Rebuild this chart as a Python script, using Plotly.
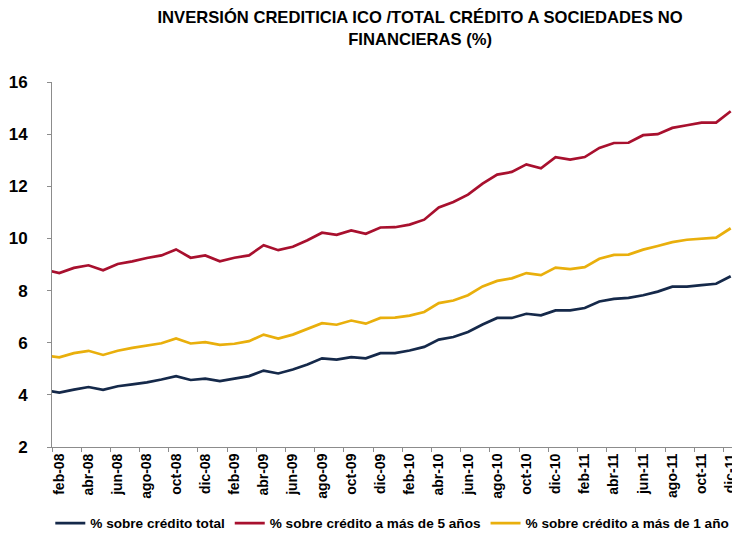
import plotly.graph_objects as go

# Meses (ene-08 queda fuera del eje, solo asoma el tramo inicial de las líneas)
anios = ["08", "09", "10", "11"]
nombres_mes = ["ene", "feb", "mar", "abr", "may", "jun",
               "jul", "ago", "sep", "oct", "nov", "dic"]
meses = [f"{m}-{a}" for a in anios for m in nombres_mes]

credito_total = [4.17, 4.09, 4.20, 4.30, 4.19, 4.33, 4.40, 4.48, 4.59, 4.72, 4.57, 4.62,
                 4.53, 4.63, 4.72, 4.93, 4.82, 4.97, 5.16, 5.40, 5.35, 5.45, 5.40, 5.60,
                 5.60, 5.70, 5.84, 6.12, 6.22, 6.41, 6.70, 6.95, 6.95, 7.11, 7.05, 7.24,
                 7.24, 7.33, 7.58, 7.68, 7.72, 7.82, 7.96, 8.15, 8.15, 8.21, 8.26, 8.55]
credito_mas_5 = [8.81, 8.67, 8.87, 8.97, 8.78, 9.02, 9.12, 9.25, 9.35, 9.58, 9.26, 9.35,
                 9.12, 9.26, 9.35, 9.74, 9.55, 9.68, 9.93, 10.22, 10.14, 10.31, 10.18, 10.42,
                 10.43, 10.53, 10.72, 11.19, 11.40, 11.68, 12.10, 12.45, 12.55, 12.84, 12.69, 13.12,
                 13.02, 13.12, 13.47, 13.66, 13.67, 13.96, 14.00, 14.24, 14.34, 14.44, 14.44, 14.88]
credito_mas_1 = [5.52, 5.44, 5.60, 5.69, 5.53, 5.69, 5.80, 5.88, 5.98, 6.16, 5.97, 6.02,
                 5.92, 5.96, 6.06, 6.31, 6.16, 6.31, 6.53, 6.75, 6.69, 6.85, 6.73, 6.95,
                 6.96, 7.04, 7.18, 7.52, 7.62, 7.82, 8.16, 8.37, 8.47, 8.67, 8.59, 8.88,
                 8.82, 8.90, 9.22, 9.37, 9.38, 9.57, 9.71, 9.86, 9.95, 9.99, 10.03, 10.39]

etiquetas_x = meses[1::2]  # feb-08, abr-08, ... dic-11

series = [
    ("% sobre crédito total", credito_total, "#15294A"),
    ("% sobre crédito a más de 5 años", credito_mas_5, "#A8102E"),
    ("% sobre crédito a más de 1 año", credito_mas_1, "#E9AF0C"),
]

fig = go.Figure()
for nombre, valores, color in series:
    fig.add_trace(go.Scatter(
        x=meses, y=valores, name=nombre, mode="lines",
        line=dict(color=color, width=2.7),
    ))

# the page body adds an 8px offset, so the figure is 8px smaller than the window
fig.update_layout(
    width=732, height=550,
    margin=dict(l=44, r=2, t=74, b=111, autoexpand=False),
    paper_bgcolor="white", plot_bgcolor="white",
    font=dict(family="Liberation Sans, Arial, sans-serif", color="black"),
    title=dict(
        text="<b>INVERSIÓN CREDITICIA ICO /TOTAL CRÉDITO A SOCIEDADES NO<br>FINANCIERAS (%)</b>",
        x=0.563, xanchor="center", xref="container",
        y=0.972, yanchor="top", yref="container",
        font=dict(size=16.6, color="black"),
    ),
    showlegend=True,
    legend=dict(
        orientation="h", xref="container", x=0.525, xanchor="center",
        y=-0.209, yanchor="middle",
        font=dict(size=13.6, color="black", weight="bold"),
        itemwidth=30, tracegroupgap=0,
    ),
)

fig.update_xaxes(
    type="category", categoryorder="array", categoryarray=meses,
    range=[0.5, 47.5], automargin=False,
    tickmode="array", tickvals=etiquetas_x, ticktext=etiquetas_x,
    tickson="boundaries", ticks="outside", ticklen=4, tickcolor="#8C8C8C",
    tickangle=-90,
    tickfont=dict(size=14, color="black", weight="bold"),
    showline=True, linecolor="#8C8C8C", linewidth=1,
    showgrid=False, zeroline=False,
)
fig.update_yaxes(
    range=[2, 16], dtick=2, automargin=False,
    ticks="outside", ticklen=4, tickcolor="#8C8C8C",
    ticklabelstandoff=16,
    tickfont=dict(size=17, color="black", weight="bold"),
    showline=True, linecolor="#8C8C8C", linewidth=1,
    showgrid=False, zeroline=False,
)

fig.write_html("out.html")
